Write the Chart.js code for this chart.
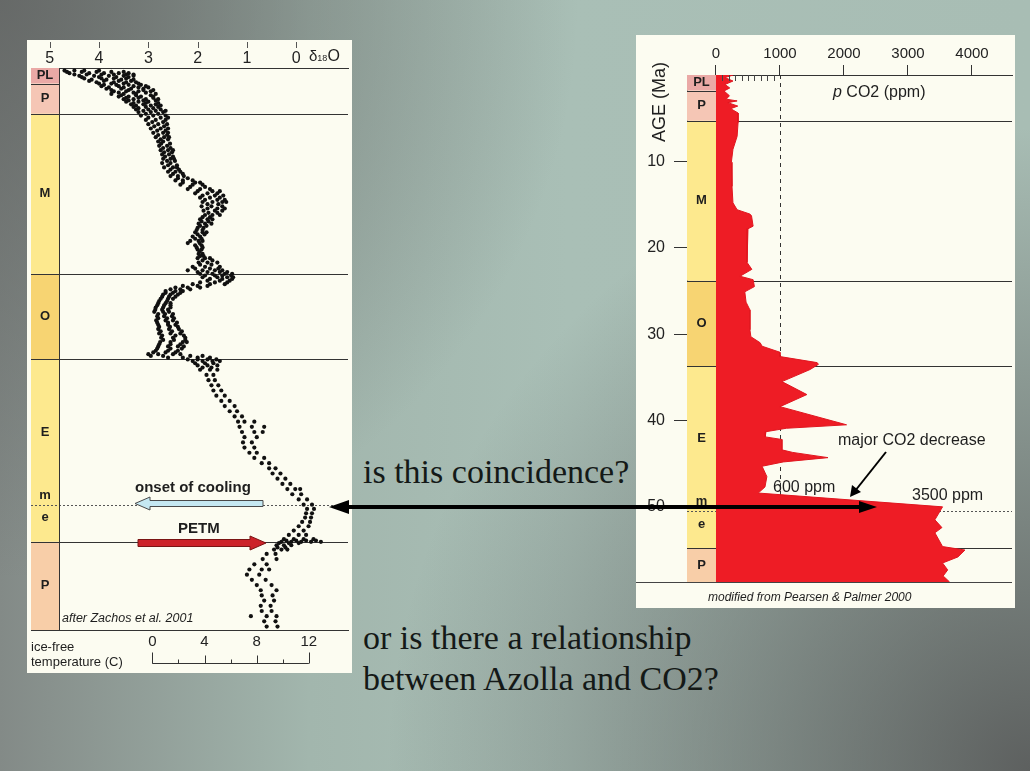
<!DOCTYPE html>
<html>
<head>
<meta charset="utf-8">
<script src="https://cdn.jsdelivr.net/npm/chart.js@4.4.1/dist/chart.umd.min.js"></script>
<style>
html, body { margin: 0; padding: 0; }
body {
    width: 1030px; height: 771px; overflow: hidden; position: relative;
    font-family: 'Liberation Sans', Arial, sans-serif;
    background:
        radial-gradient(circle at 100% 100%, rgba(85,86,86,0.9) 0%, rgba(85,86,86,0) 50%),
        radial-gradient(circle at 0% 0%, rgba(95,97,96,0.8) 0%, rgba(95,97,96,0) 45%),
        linear-gradient(90deg, #838a87 0%, #a2b6ad 30%, #a9bfb6 55%, #a8bdb4 100%);
}
.panel { position: absolute; background: #fcfcf1; }
.panel canvas { position: absolute; left: 0; top: 0; }
.txt { position: absolute; white-space: nowrap; line-height: 1; color: #1e1e1e; }
.serif { font-family: 'Liberation Serif', 'Times New Roman', serif; font-size: 34px; color: #141917; }
#overlay { position: absolute; left: 0; top: 0; pointer-events: none; }
</style>
</head>
<body>
<div class="panel" style="left:27px;top:40px;width:325px;height:633px;">
    <canvas id="isoChart" width="325" height="633"></canvas>
</div>
<div class="panel" style="left:636px;top:35px;width:379px;height:573px;">
    <canvas id="co2Chart" width="379" height="573"></canvas>
</div>

<div class="txt" style="left:309px;top:48px;font-size:15px;">δ<span style="font-size:9px;">18</span><span style="font-size:16px;">O</span></div>
<div class="txt" style="left:135px;top:479px;font-size:15px;font-weight:bold;">onset of cooling</div>
<div class="txt" style="left:178px;top:520px;font-size:15px;font-weight:bold;">PETM</div>
<div class="txt" style="left:62px;top:612px;font-size:12.5px;font-style:italic;">after Zachos et al. 2001</div>
<div class="txt" style="left:31px;top:640px;font-size:13px;">ice-free</div>
<div class="txt" style="left:31px;top:655px;font-size:13px;">temperature (C)</div>

<div class="txt" style="left:833px;top:84px;font-size:16px;"><i>p</i> CO2 (ppm)</div>
<div class="txt" style="left:659px;top:102px;font-size:18px;transform:translate(-50%,-50%) rotate(-90deg);">AGE (Ma)</div>
<div class="txt" style="left:838px;top:432px;font-size:16px;">major CO2 decrease</div>
<div class="txt" style="left:773px;top:479px;font-size:16px;">600 ppm</div>
<div class="txt" style="left:912px;top:487px;font-size:16px;">3500 ppm</div>
<div class="txt" style="left:708px;top:591px;font-size:12px;font-style:italic;">modified from Pearsen &amp; Palmer 2000</div>

<div class="txt serif" style="left:363px;top:455px;">is this coincidence?</div>
<div class="txt serif" style="left:363px;top:621px;">or is there a relationship</div>
<div class="txt serif" style="left:363px;top:662px;">between Azolla and CO2?</div>

<svg id="overlay" width="1030" height="771">
    <polygon points="135,503.5 150,497 150,500.5 263,500.5 263,506.5 150,506.5 150,510" fill="#c5e8f2" stroke="#4a4a4a" stroke-width="1"/>
    <polygon points="266,543 250,536 250,539.5 138,539.5 138,546.5 250,546.5 250,550" fill="#cc2229" stroke="#7a1414" stroke-width="1"/>
    <line x1="345" y1="507" x2="862" y2="507" stroke="#000" stroke-width="4"/>
    <polygon points="329,507 349,500 349,514" fill="#000"/>
    <polygon points="877,507 859,501 859,513" fill="#000"/>
    <line x1="886" y1="452" x2="855" y2="491" stroke="#000" stroke-width="2"/>
    <polygon points="850,497 852,485 861,492" fill="#000"/>
</svg>

<script>
// geological column (ages in Ma)
const eraNames = ['PL', 'P', 'M', 'O', 'E', 'P'];
const eraStart = [0, 1.8, 5.3, 23.8, 33.7, 54.8];
const eraEnd = [1.8, 5.3, 23.8, 33.7, 54.8, 65];
const eraColors = ['#eaa9a6', '#f5c6b5', '#fde98e', '#f7d472', '#fde98e', '#f8cea8'];
const midEocene = 50.5;

const d18Ticks = [5, 4, 3, 2, 1, 0];
const tempTicks = [0, 4, 8, 12];
const tempMinor = [2, 6, 10];
const isoAges = [
    0.3, 0.6, 0.9, 1.2, 1.5, 1.8, 2.1, 2.4, 2.7, 3.0, 3.3, 3.6, 3.9, 4.2, 4.5, 4.8,
    5.1, 5.5, 6.0, 6.5, 7.0, 7.5, 8.0, 8.5, 9.0, 9.5, 10.0, 10.5, 11.0, 11.5, 12.0, 12.5,
    13.0, 13.5, 14.0, 14.5, 15.0, 15.5, 16.0, 16.5, 17.0, 17.5, 18.0, 18.5, 19.0, 19.5,
    20.0, 20.5, 21.0, 21.5, 22.0, 22.5, 23.0, 23.4, 23.8, 24.2, 24.6, 25.0, 25.4, 25.8,
    26.2, 26.7, 27.2, 27.7, 28.2, 28.7, 29.2, 29.7, 30.2, 30.7, 31.2, 31.7, 32.2, 32.7,
    33.1, 33.5, 33.9, 34.4, 34.9, 35.5, 36.1, 36.7, 37.3, 37.9, 38.5, 39.1, 39.7, 40.3,
    40.9, 41.5, 42.1, 42.7, 43.3, 43.9, 44.5, 45.1, 45.7, 46.3, 46.9, 47.5, 48.1, 48.7,
    49.3, 49.9, 50.5, 51.0, 51.5, 52.0, 52.5, 53.0, 53.5, 54.0, 54.5, 54.8, 55.2, 55.7,
    56.2, 56.8, 57.4, 58.0, 58.6, 59.2, 59.8, 60.4, 61.0, 61.6, 62.2, 62.8, 63.4, 64.0, 64.6
];
const isoValues = [
    [4.7, 4.5, 4.3, 4.0], [4.6, 4.2, 3.9, 3.6, 3.4], [4.4, 4.1, 3.8, 3.5, 3.3], [4.3, 3.95, 3.7, 3.45],
    [4.2, 3.9, 3.6, 3.35], [4.0, 3.75, 3.5, 3.2], [3.95, 3.6, 3.3, 3.05], [3.85, 3.55, 3.35, 3.1],
    [3.7, 3.45, 3.2, 2.95], [3.75, 3.5, 3.25, 2.85], [3.6, 3.4, 3.15, 2.9], [3.5, 3.3, 3.05, 2.8],
    [3.45, 3.2, 3.0], [3.35, 3.1, 2.85], [3.3, 3.05, 2.8], [3.25, 3.0, 2.75],
    [3.2, 2.95, 2.7], [3.15, 2.9, 2.65], [3.05, 2.85, 2.65], [3.0, 2.8, 2.62],
    [2.95, 2.75, 2.6], [2.9, 2.7, 2.6], [2.85, 2.68, 2.58], [2.8, 2.7],
    [2.78, 2.62], [2.75, 2.6, 2.5], [2.72, 2.58], [2.7, 2.55, 2.48],
    [2.72, 2.55], [2.68, 2.5, 2.42], [2.6, 2.45, 2.35], [2.55, 2.4, 2.28],
    [2.45, 2.3, 2.1], [2.35, 2.1, 1.9], [2.2, 1.95, 1.75], [2.05, 1.8, 1.6],
    [1.95, 1.75, 1.55], [1.9, 1.7, 1.5, 1.42], [1.92, 1.72, 1.5], [1.88, 1.65, 1.5],
    [1.85, 1.7, 1.55], [1.95, 1.8, 1.7], [1.98, 1.85, 1.72], [2.0, 1.88],
    [2.05, 1.9, 1.82], [2.1, 1.95], [2.15, 1.98, 1.9], [2.05, 1.92],
    [2.0, 1.92], [1.98, 1.9], [2.0, 1.85, 1.75], [1.98, 1.8, 1.6],
    [2.1, 1.85, 1.55], [2.2, 1.9, 1.65, 1.5], [1.95, 1.7, 1.45, 1.3], [1.9, 1.6, 1.4, 1.28],
    [1.8, 1.55, 1.35], [2.1, 1.75, 1.45], [2.45, 2.2, 1.95], [2.65, 2.45, 2.3],
    [2.7, 2.55, 2.4], [2.75, 2.6, 2.5], [2.8, 2.65, 2.55], [2.85, 2.7, 2.55],
    [2.88, 2.7, 2.58], [2.82, 2.68, 2.52], [2.84, 2.65, 2.5], [2.8, 2.6, 2.45],
    [2.8, 2.58, 2.38], [2.78, 2.55, 2.35], [2.74, 2.5, 2.25], [2.76, 2.55, 2.3, 2.22],
    [2.8, 2.6, 2.4, 2.28], [2.85, 2.6, 2.4], [3.0, 2.8, 2.5, 2.35], [2.6, 2.3, 2.0, 1.75],
    [2.1, 1.9, 1.7, 1.55], [2.0, 1.8, 1.6], [1.95, 1.75, 1.6], [1.82, 1.68],
    [1.78, 1.65], [1.72, 1.58], [1.68, 1.52], [1.62, 1.45], [1.52, 1.35], [1.45, 1.25],
    [1.35, 1.2], [1.25, 1.1], [1.18, 1.05, 0.85], [1.15, 0.9, 0.65], [1.1, 0.85, 0.68],
    [1.05, 0.8], [1.08, 0.9], [1.05, 0.85], [0.95, 0.8], [0.85, 0.65], [0.7, 0.55],
    [0.55, 0.42], [0.48, 0.32], [0.38, 0.22], [0.28, 0.12], [0.18, 0.02, -0.08],
    [0.08, -0.1], [-0.05, -0.22], [-0.15, -0.32], [-0.22, -0.36], [-0.2, -0.32],
    [-0.18, -0.3], [-0.12, -0.28], [-0.05, -0.25], [0.05, -0.15], [0.15, -0.05, -0.2],
    [0.25, 0.05, -0.15, -0.35], [0.3, 0.1, -0.1, -0.3, -0.5], [0.4, 0.25, 0.1], [0.45, 0.3, 0.18],
    [0.6, 0.42], [0.68, 0.4], [0.85, 0.6], [0.95, 0.7, 0.55], [1.0, 0.75], [0.9, 0.62],
    [0.8, 0.5], [0.72, 0.4], [0.7, 0.48], [0.65, 0.45], [0.72, 0.52], [0.7, 0.5],
    [0.92, 0.6, 0.4], [0.65, 0.42], [0.6, 0.38]
];
// second pass of rows in between, where the cloud is dense
const isoAgesB = [
    0.45, 0.75, 1.05, 1.35, 1.65, 1.95, 2.25, 2.55, 2.85, 3.15, 3.45, 3.75, 4.05, 4.35,
    4.65, 4.95, 5.3, 5.75, 6.25, 6.75, 7.25, 7.75, 8.25, 8.75, 9.25, 9.75, 10.25, 10.75,
    11.25, 11.75, 12.25, 12.75, 13.25, 13.75, 14.25, 14.75, 15.25, 15.75, 16.25, 16.75,
    17.25, 17.75, 18.25, 18.75, 19.25, 19.75, 20.25, 20.75, 21.25, 21.75, 22.25, 22.75,
    23.2, 23.6, 24.0, 24.4, 24.8, 25.2, 25.6, 26.0, 26.45, 26.95, 27.45, 27.95, 28.45,
    28.95, 29.45, 29.95, 30.45, 30.95, 31.45, 31.95, 32.45, 32.9, 33.3, 33.7, 34.15, 34.65,
    54.65, 54.95, 55.45
];
const isoValuesB = [
    [4.65, 4.35, 4.05, 3.75, 3.5], [4.5, 4.25, 3.95, 3.7, 3.45, 3.3], [4.35, 4.0, 3.65, 3.4],
    [4.15, 3.85, 3.55, 3.3], [4.05, 3.7, 3.45, 3.25], [3.9, 3.65, 3.4, 3.15], [3.8, 3.5, 3.2, 3.0],
    [3.75, 3.4, 3.1, 2.9], [3.6, 3.3, 3.05], [3.55, 3.25, 2.95], [3.45, 3.2, 2.9], [3.4, 3.1, 2.85],
    [3.3, 3.05, 2.8], [3.25, 2.95, 2.75], [3.2, 2.9], [3.1, 2.85, 2.65], [3.05, 2.8],
    [3.0, 2.75, 2.6], [2.92, 2.7], [2.88, 2.68], [2.82, 2.65], [2.8, 2.62], [2.75, 2.6],
    [2.74, 2.56], [2.7, 2.55], [2.68, 2.52], [2.66, 2.5], [2.62, 2.46], [2.6, 2.42],
    [2.55, 2.38], [2.5, 2.3], [2.4, 2.2], [2.3, 2.05, 1.95], [2.15, 1.85], [2.0, 1.7, 1.55],
    [1.9, 1.65, 1.48], [1.85, 1.6, 1.45], [1.8, 1.58], [1.8, 1.6, 1.45], [1.78, 1.6],
    [1.9, 1.75], [1.92, 1.78], [1.95, 1.82], [2.02, 1.9], [2.0, 1.86], [2.05, 1.92],
    [2.2, 1.96], [2.02, 1.9], [1.96], [1.95, 1.88], [1.9, 1.7], [1.95, 1.72],
    [2.05, 1.75, 1.58], [2.0, 1.8, 1.55, 1.4], [1.85, 1.65, 1.5, 1.32], [1.75, 1.5, 1.3],
    [1.95, 1.65, 1.4], [2.3, 2.0, 1.8], [2.55, 2.35, 2.15], [2.65, 2.5, 2.35],
    [2.72, 2.58, 2.45], [2.78, 2.62], [2.82, 2.68, 2.55], [2.86, 2.72, 2.6], [2.8, 2.66, 2.5],
    [2.8, 2.62, 2.48], [2.82, 2.6, 2.42], [2.78, 2.56, 2.4], [2.75, 2.52, 2.32],
    [2.72, 2.45, 2.28], [2.7, 2.48, 2.25], [2.78, 2.55, 2.35], [2.82, 2.55, 2.32],
    [2.9, 2.65, 2.45], [2.95, 2.7, 2.15, 1.9], [2.2, 2.0, 1.8, 1.62], [2.05, 1.85, 1.68],
    [1.9, 1.72], [0.2, 0.0, -0.2, -0.4], [0.35, 0.15, -0.05], [0.38, 0.22]
];

// right: pCO2 (Pearson & Palmer 2000)
const co2Ticks = [0, 1000, 2000, 3000, 4000];
const co2Minor = [100, 200, 300, 400, 500, 600, 700, 800, 900];
const ageTicks = [10, 20, 30, 40, 50];
const co2Ages = [
    0, 0.3, 0.7, 1.1, 1.5, 1.85, 2.4, 2.8, 3.0, 3.2, 3.6, 3.9, 4.4, 5.5, 7.1, 8.6, 10.1,
    12.9, 14.8, 15.6, 16.1, 16.3, 17.5, 17.8, 19.4, 21.7, 22.5, 23.3, 23.7, 24.5, 25.1,
    26.3, 27.2, 29.5, 30.3, 31.0, 31.4, 32.1, 32.6, 33.3, 33.5, 34.1, 35.5, 37.0, 38.4,
    40.5, 40.9, 41.3, 41.9, 42.2, 43.4, 43.7, 44.3, 44.8, 45.3, 46.5, 47.7, 48.4,
    50.0, 51.5, 52.4, 53.0, 54.6, 55.0, 55.8, 56.5, 57.3, 58.0, 58.7
];
const co2Ppm = [
    270, 140, 265, 140, 215, 125, 210, 160, 330, 185, 340, 230, 345, 345, 330, 265, 240,
    250, 265, 330, 530, 555, 580, 500, 485, 485, 560, 375, 580, 600, 450,
    470, 530, 530, 545, 690, 720, 1000, 1000, 1580, 1600, 1470, 1030, 1420, 1000,
    2040, 1100, 780, 770, 1030, 1030, 1200, 1750, 1050, 720, 795, 765, 660,
    3540, 3420, 3530, 3420, 3540, 3890, 3780, 3540, 3620, 3550, 3650
];

Chart.defaults.font.family = "'Liberation Sans', Arial, sans-serif";
Chart.defaults.color = '#222';

const toPoints = (ages, rows) => ages.flatMap((age, i) => rows[i].map(v => ({ x: v, y: age })));
const isoPoints = toPoints(isoAges, isoValues).concat(toPoints(isoAgesB, isoValuesB));
const co2Points = co2Ages.map((age, i) => ({ x: co2Ppm[i], y: age }));

function hline(ctx, x1, x2, py) {
    ctx.beginPath();
    ctx.moveTo(x1, py);
    ctx.lineTo(x2, py);
    ctx.stroke();
}

// draws the epoch column, boundaries and the mid-Eocene dotted line
const columnPlugin = {
    id: 'geoColumn',
    beforeDatasetsDraw(chart, args, opts) {
        const { ctx, chartArea: area, scales: { y } } = chart;
        const colL = area.left;
        const colR = opts.colRight(chart);
        const ageMax = y.max;
        ctx.save();
        eraNames.forEach((name, i) => {
            const top = y.getPixelForValue(eraStart[i]);
            const bottom = y.getPixelForValue(Math.min(eraEnd[i], ageMax));
            ctx.fillStyle = eraColors[i];
            ctx.fillRect(colL, top, colR - colL, bottom - top);
        });
        if (opts.before) opts.before(chart);

        ctx.strokeStyle = '#555';
        ctx.lineWidth = 1;
        ctx.setLineDash([2, 2]);
        hline(ctx, colL, area.right, Math.round(y.getPixelForValue(midEocene)) + 0.5);
        ctx.setLineDash([]);

        ctx.strokeStyle = '#333';
        eraStart.forEach((age, i) => {
            if (i === 0) return;
            const py = Math.round(y.getPixelForValue(age)) + 0.5;
            hline(ctx, colL, i === 1 ? colR : area.right, py);
        });
        ctx.beginPath();
        ctx.moveTo(Math.round(colR) + 0.5, area.top);
        ctx.lineTo(Math.round(colR) + 0.5, area.bottom);
        ctx.stroke();

        ctx.fillStyle = '#1e1e1e';
        ctx.font = "bold 13px 'Liberation Sans', Arial, sans-serif";
        ctx.textAlign = 'center';
        ctx.textBaseline = 'middle';
        const cx = (colL + colR) / 2;
        eraNames.forEach((name, i) => {
            let mid = (eraStart[i] + Math.min(eraEnd[i], ageMax)) / 2;
            if (i === 4) mid = (eraStart[i] + midEocene) / 2;
            ctx.fillText(name, cx, y.getPixelForValue(mid));
        });
        ctx.fillText('m', cx, y.getPixelForValue(midEocene - 1.1));
        ctx.fillText('e', cx, y.getPixelForValue(midEocene + 1.5));
        ctx.restore();
    },
    afterDraw(chart, args, opts) {
        if (opts.after) opts.after(chart);
    }
};

const noTips = { legend: { display: false }, tooltip: { enabled: false } };

new Chart(document.getElementById('isoChart'), {
    type: 'scatter',
    data: {
        datasets: [{
            data: isoPoints,
            pointRadius: 2.1,
            pointBackgroundColor: '#111',
            pointBorderWidth: 0
        }]
    },
    options: {
        responsive: false,
        animation: false,
        layout: { padding: { left: 0, right: 1, top: 0, bottom: 0 } },
        plugins: {
            ...noTips,
            geoColumn: {
                colRight: c => c.chartArea.left + 28,
                after: c => {
                    const { ctx, scales: { x, temp } } = c;
                    ctx.save();
                    ctx.strokeStyle = '#555';
                    ctx.lineWidth = 1;
                    d18Ticks.forEach(v => {
                        const px = Math.round(x.getPixelForValue(v)) + 0.5;
                        ctx.beginPath(); ctx.moveTo(px, 2); ctx.lineTo(px, 8); ctx.stroke();
                    });
                    // temperature scale bar
                    ctx.strokeStyle = '#333';
                    const barY = 623.5;
                    hline(ctx, temp.getPixelForValue(0), temp.getPixelForValue(12), barY);
                    tempTicks.forEach((v, i) => {
                        const px = Math.round(temp.getPixelForValue(v)) + 0.5;
                        const len = (i === 0 || i === tempTicks.length - 1) ? 11 : 8;
                        ctx.beginPath(); ctx.moveTo(px, barY); ctx.lineTo(px, barY - len); ctx.stroke();
                    });
                    tempMinor.forEach(v => {
                        const px = Math.round(temp.getPixelForValue(v)) + 0.5;
                        ctx.beginPath(); ctx.moveTo(px, barY); ctx.lineTo(px, barY - 4); ctx.stroke();
                    });
                    ctx.restore();
                }
            }
        },
        scales: {
            x: {
                type: 'linear', position: 'top', reverse: true, min: -1.05, max: 5.38,
                afterBuildTicks: s => { s.ticks = d18Ticks.map(v => ({ value: v })); },
                afterFit: s => { s.height = 28; },
                grid: { display: false, drawTicks: false },
                border: { display: true, color: '#333' },
                ticks: { font: { size: 16 }, padding: 0, maxRotation: 0, autoSkip: false }
            },
            temp: {
                type: 'linear', axis: 'x', position: 'bottom', min: -9.3, max: 15,
                afterBuildTicks: s => { s.ticks = tempTicks.map(v => ({ value: v })); },
                afterFit: s => { s.height = 43; },
                grid: { display: false, drawTicks: false },
                border: { display: true, color: '#333' },
                ticks: { font: { size: 15 }, padding: 3, maxRotation: 0, autoSkip: false }
            },
            y: { type: 'linear', display: false, reverse: true, min: 0, max: 65 }
        }
    },
    plugins: [columnPlugin]
});

new Chart(document.getElementById('co2Chart'), {
    type: 'line',
    data: {
        datasets: [{
            data: co2Points,
            fill: 'origin',
            backgroundColor: '#ee1c25',
            borderColor: '#e0161f',
            borderWidth: 1,
            pointRadius: 0,
            tension: 0
        }]
    },
    options: {
        indexAxis: 'y',
        responsive: false,
        animation: false,
        layout: { padding: { left: 0, right: 3, top: 0, bottom: 26 } },
        plugins: {
            ...noTips,
            geoColumn: {
                colRight: c => c.scales.x.getPixelForValue(0),
                before: c => {
                    const { ctx, chartArea: a, scales: { x } } = c;
                    ctx.save();
                    ctx.strokeStyle = '#333';
                    ctx.lineWidth = 1;
                    ctx.setLineDash([4, 4]);
                    const px = Math.round(x.getPixelForValue(1000)) + 0.5;
                    ctx.beginPath(); ctx.moveTo(px, a.top); ctx.lineTo(px, a.bottom); ctx.stroke();
                    ctx.restore();
                },
                after: c => {
                    const { ctx, chartArea: a, scales: { x } } = c;
                    ctx.save();
                    ctx.strokeStyle = '#444';
                    ctx.lineWidth = 1;
                    co2Minor.forEach(v => {
                        const px = Math.round(x.getPixelForValue(v)) + 0.5;
                        ctx.beginPath(); ctx.moveTo(px, a.top); ctx.lineTo(px, a.top + 6); ctx.stroke();
                    });
                    hline(ctx, 0, a.right, Math.round(a.bottom) + 0.5);
                    ctx.restore();
                }
            }
        },
        scales: {
            x: {
                type: 'linear', position: 'top', min: -453, max: 4625,
                afterBuildTicks: s => { s.ticks = co2Ticks.map(v => ({ value: v })); },
                afterFit: s => { s.height = 40; },
                grid: { drawOnChartArea: false, drawTicks: true, tickLength: 10, color: '#333' },
                border: { display: true, color: '#333' },
                ticks: { font: { size: 15 }, padding: 2, maxRotation: 0, autoSkip: false, callback: v => String(v) }
            },
            y: {
                type: 'linear', position: 'left', reverse: true, min: 0, max: 58.7,
                afterBuildTicks: s => { s.ticks = ageTicks.map(v => ({ value: v })); },
                afterFit: s => { s.width = 51; },
                grid: { drawOnChartArea: false, drawTicks: true, tickLength: 13, color: '#333' },
                border: { display: true, color: '#444' },
                ticks: { font: { size: 16 }, padding: 9, autoSkip: false }
            }
        }
    },
    plugins: [columnPlugin]
});
</script>
</body>
</html>
